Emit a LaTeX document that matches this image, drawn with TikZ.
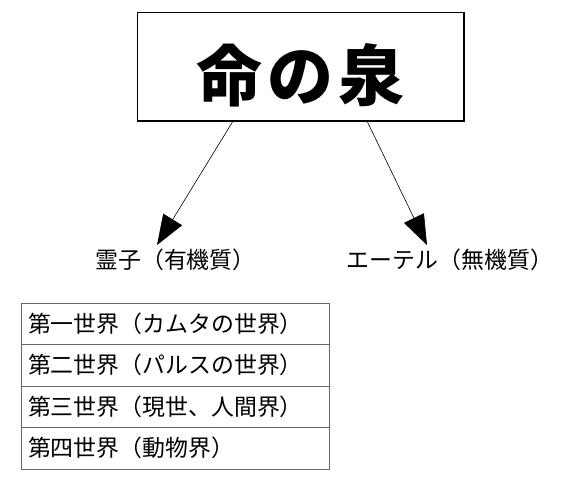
\documentclass[tikz,border=0pt]{standalone}
\usepackage{fontspec}
\newfontfamily\cjk{Noto Sans CJK JP}
\usetikzlibrary{arrows.meta}
\usetikzlibrary{calc}
\usetikzlibrary{positioning}

\begin{document}
\begin{tikzpicture}[x=1pt, y=-1pt,
    every node/.style = {font=\cjk\fontsize{22.9}{26}\selectfont},
    titlebox/.style = {draw, line width=1pt, minimum width=326pt, minimum height=108pt,
      inner sep=0pt, font=\cjk\bfseries\fontsize{66}{72}\selectfont},
    flow/.style = {-{Triangle[length=30pt, width=22pt]}, line width=0.6pt},
    worldrow/.style = {draw=black!60, line width=0.8pt, minimum height=41.5pt,
      text width=294pt, inner xsep=7pt, align=left, outer sep=0pt, anchor=north west}]
  \useasboundingbox (0,0) rectangle (567,492);

  \node[titlebox] (spring) at (300.75,66.75) {\raisebox{-34pt}[0pt][0pt]{命\hspace{5pt}の\hspace{5pt}泉}};
  \draw[line width=2pt] (spring.south west) -- (spring.south east) -- (spring.north east);

  \node (reishi) at (175.5,259.5) {霊子（有機質）};
  \node (ether) at (450,259.5) {エーテル（無機質）};

  \draw[flow] ($(spring.south west)!0.2925!(spring.south east)$) -- ([xshift=-18.5pt]reishi.north);
  \draw[flow] ($(spring.south west)!0.703!(spring.south east)$) -- ([xshift=-23pt]ether.north);

  % the four worlds
  \node[worldrow] (w1) at (21,303) {第一世界（カムタの世界）};
  \node[worldrow, below=0pt of w1] (w2) {第二世界（パルスの世界）};
  \node[worldrow, below=0pt of w2] (w3) {第三世界（現世、人間界）};
  \node[worldrow, below=0pt of w3] (w4) {第四世界（動物界）};
\end{tikzpicture}
\end{document}
